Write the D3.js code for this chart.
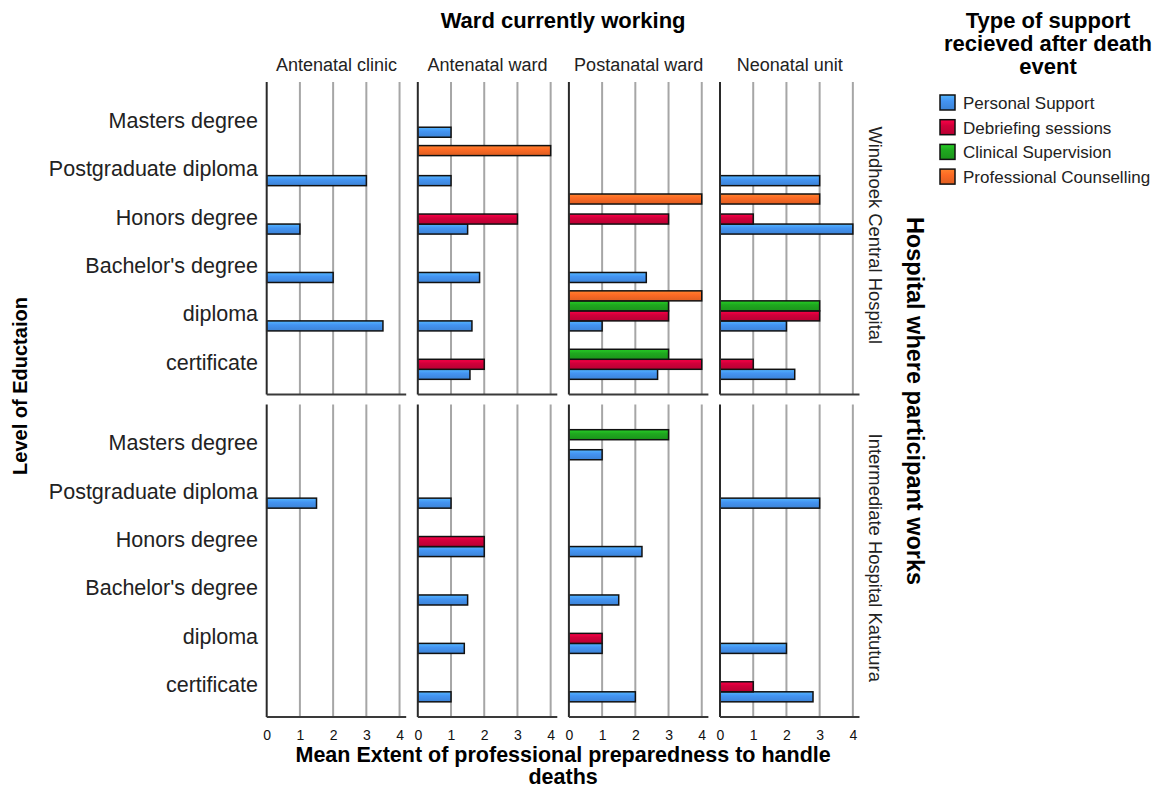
<!DOCTYPE html>
<html lang="en">
<head>
<meta charset="utf-8">
<title>Preparedness by ward and education</title>
<script src="https://d3js.org/d3.v7.min.js"></script>
<style>
  body { margin: 0; background: #fff; }
  svg { display: block; font-family: "Liberation Sans", Arial, sans-serif; }
  .bold { font-weight: bold; }
</style>
</head>
<body>
<script>
// categories
const hospitals = ["Windhoek Central Hospital", "Intermediate Hospital Katutura"];
const wards = ["Antenatal clinic", "Antenatal ward", "Postanatal ward", "Neonatal unit"];
const education = ["Masters degree", "Postgraduate diploma", "Honors degree", "Bachelor's degree", "diploma", "certificate"];
const supportTypes = ["Personal Support", "Debriefing sessions", "Clinical Supervision", "Professional Counselling"];
const supportColors = ["#4494f2", "#d1003a", "#1fa81f", "#fc6a25"];
const xTicks = [0, 1, 2, 3, 4];

// mean values: one row per ward, columns follow `education`, null = no bar
const windhoekPersonal = [
  [null, 3, 1, 2, 3.5, null],
  [1, 1, 1.5, 1.86, 1.63, 1.57],
  [null, null, null, 2.33, 1, 2.67],
  [null, 3, 4, null, 2, 2.25]
];
const windhoekDebriefing = [
  [null, null, null, null, null, null],
  [null, null, 3, null, null, 2],
  [null, null, 3, null, 3, 4],
  [null, null, 1, null, 3, 1]
];
const windhoekClinical = [
  [null, null, null, null, null, null],
  [null, null, null, null, null, null],
  [null, null, null, null, 3, 3],
  [null, null, null, null, 3, null]
];
const windhoekCounselling = [
  [null, null, null, null, null, null],
  [null, 4, null, null, null, null],
  [null, null, 4, null, 4, null],
  [null, null, 3, null, null, null]
];
const katuturaPersonal = [
  [null, 1.5, null, null, null, null],
  [null, 1, 2, 1.5, 1.4, 1],
  [1, null, 2.2, 1.5, 1, 2],
  [null, 3, null, null, 2, 2.8]
];
const katuturaDebriefing = [
  [null, null, null, null, null, null],
  [null, null, 2, null, null, null],
  [null, null, null, null, 1, null],
  [null, null, null, null, null, 1]
];
const katuturaClinical = [
  [null, null, null, null, null, null],
  [null, null, null, null, null, null],
  [3, null, null, null, null, null],
  [null, null, null, null, null, null]
];
const katuturaCounselling = [
  [null, null, null, null, null, null],
  [null, null, null, null, null, null],
  [null, null, null, null, null, null],
  [null, null, null, null, null, null]
];

const grids = [
  [windhoekPersonal, windhoekDebriefing, windhoekClinical, windhoekCounselling],
  [katuturaPersonal, katuturaDebriefing, katuturaClinical, katuturaCounselling]
];

// flatten into a table of bars
const bars = [];
hospitals.forEach((h, hi) => {
  supportTypes.forEach((s, si) => {
    grids[hi][si].forEach((row, wi) => {
      row.forEach((v, ei) => {
        if (v !== null) bars.push({hospital: h, ward: wards[wi], edu: education[ei], support: s, value: v});
      });
    });
  });
});

const width = 1157, height = 788;

const svg = d3.select("body").append("svg")
  .attr("width", width)
  .attr("height", height);

// gradients for the bar fills
const defs = svg.append("defs");
supportTypes.forEach((s, i) => {
  const base = d3.color(supportColors[i]);
  const g = defs.append("linearGradient")
    .attr("id", "grad" + i)
    .attr("x1", 0).attr("y1", 0).attr("x2", 0).attr("y2", 1);
  g.append("stop").attr("offset", "0%").attr("stop-color", base.brighter(0.6));
  g.append("stop").attr("offset", "40%").attr("stop-color", base);
  g.append("stop").attr("offset", "100%").attr("stop-color", base.darker(0.35));
});

const colScale = d3.scaleBand()
  .domain(wards)
  .range([266.7, 859.5])
  .paddingInner(0.0768)
  .paddingOuter(0);

const rowScale = d3.scaleBand()
  .domain(hospitals)
  .range([82, 717])
  .paddingInner(0.031)
  .paddingOuter(0);

const panelW = colScale.bandwidth();
const panelH = rowScale.bandwidth();

const xScale = d3.scaleLinear()
  .domain([0, 4.2])
  .range([0, panelW]);

const yScale = d3.scaleBand()
  .domain(education)
  .range([11, panelH - 11])
  .paddingInner(0.1724)
  .paddingOuter(0.0862);

// inner slots, top to bottom: counselling ... personal support
const slotScale = d3.scaleBand()
  .domain(supportTypes.slice().reverse())
  .range([0, yScale.bandwidth()]);

const color = d3.scaleOrdinal().domain(supportTypes).range(supportTypes.map((s, i) => "url(#grad" + i + ")"));

// panels
hospitals.forEach(h => {
  wards.forEach(w => {
    const p = svg.append("g")
      .attr("transform", "translate(" + colScale(w) + "," + rowScale(h) + ")");

    // grid lines
    p.selectAll("line.grid")
      .data(xTicks.filter(t => t > 0))
      .enter()
      .append("line")
      .attr("x1", d => xScale(d)).attr("x2", d => xScale(d))
      .attr("y1", 0).attr("y2", panelH)
      .attr("stroke", "#a6a6a6")
      .attr("stroke-width", 2);

    // bars
    p.selectAll("rect")
      .data(bars.filter(d => d.hospital === h && d.ward === w))
      .enter()
      .append("rect")
      .attr("x", 0)
      .attr("y", d => yScale(d.edu) + slotScale(d.support))
      .attr("width", d => xScale(d.value))
      .attr("height", slotScale.bandwidth())
      .attr("fill", d => color(d.support))
      .attr("stroke", "#111")
      .attr("stroke-width", 1.5);

    // axis lines
    p.append("line")
      .attr("x1", 0).attr("x2", 0).attr("y1", 0).attr("y2", panelH)
      .attr("stroke", "#2a2a2a").attr("stroke-width", 2);
    p.append("line")
      .attr("x1", 0).attr("x2", panelW).attr("y1", panelH).attr("y2", panelH)
      .attr("stroke", "#3a3a3a").attr("stroke-width", 2);
  });
});

// category labels on the left
hospitals.forEach(h => {
  svg.append("g")
    .selectAll("text")
    .data(education)
    .enter()
    .append("text")
    .attr("x", 258)
    .attr("y", d => rowScale(h) + yScale(d) + yScale.bandwidth() / 2 + 10.5)
    .attr("text-anchor", "end")
    .style("font-size", "21.5px")
    .attr("fill", "#222")
    .text(d => d);
});

// x tick labels under the bottom row
wards.forEach(w => {
  const ax = svg.append("g")
    .attr("transform", "translate(" + colScale(w) + "," + (rowScale(hospitals[1]) + panelH) + ")")
    .call(d3.axisBottom(xScale).tickValues(xTicks).tickFormat(d3.format("d")).tickSize(0).tickPadding(13));
  ax.select(".domain").remove();
  ax.selectAll("text")
    .style("font-family", "Liberation Sans, Arial, sans-serif")
    .style("font-size", "14px")
    .attr("fill", "#111");
});

// column headers
svg.append("g")
  .selectAll("text")
  .data(wards)
  .enter()
  .append("text")
  .attr("x", d => colScale(d) + panelW / 2)
  .attr("y", 71)
  .attr("text-anchor", "middle")
  .style("font-size", "18px")
  .attr("fill", "#222")
  .text(d => d);

// row strip labels on the right
svg.append("g")
  .selectAll("text")
  .data(hospitals)
  .enter()
  .append("text")
  .attr("transform", d => "translate(869," + (rowScale(d) + panelH / 2 - 3) + ") rotate(90)")
  .attr("text-anchor", "middle")
  .style("font-size", "18.4px")
  .attr("fill", "#222")
  .text(d => d);

const midX = (colScale.range()[0] + colScale.range()[1]) / 2;

svg.append("text")
  .attr("class", "bold")
  .attr("x", midX)
  .attr("y", 28)
  .attr("text-anchor", "middle")
  .style("font-size", "22px")
  .text("Ward currently working");

svg.append("text")
  .attr("class", "bold")
  .attr("text-anchor", "middle")
  .style("font-size", "21.5px")
  .selectAll("tspan")
  .data(["Mean Extent of professional preparedness to handle", "deaths"])
  .enter()
  .append("tspan")
  .attr("x", midX)
  .attr("y", (d, i) => 762 + i * 22)
  .text(d => d);

svg.append("text")
  .attr("class", "bold")
  .attr("transform", "translate(27,386) rotate(-90)")
  .attr("text-anchor", "middle")
  .style("font-size", "20px")
  .text("Level of Eductaion");

svg.append("text")
  .attr("class", "bold")
  .attr("transform", "translate(907,401) rotate(90)")
  .attr("text-anchor", "middle")
  .style("font-size", "23.5px")
  .text("Hospital where participant works");

// legend
const legend = svg.append("g");
legend.append("text")
  .attr("class", "bold")
  .attr("text-anchor", "middle")
  .style("font-size", "22px")
  .selectAll("tspan")
  .data(["Type of support", "recieved after death", "event"])
  .enter()
  .append("tspan")
  .attr("x", 1048)
  .attr("y", (d, i) => 28 + i * 23)
  .text(d => d);

const items = legend.selectAll("g.item")
  .data(supportTypes)
  .enter()
  .append("g")
  .attr("transform", (d, i) => "translate(940," + (95 + i * 24.7) + ")");

items.append("rect")
  .attr("width", 15)
  .attr("height", 15)
  .attr("fill", d => color(d))
  .attr("stroke", "#111")
  .attr("stroke-width", 1.5);

items.append("text")
  .attr("x", 23)
  .attr("y", 14)
  .style("font-size", "17px")
  .attr("fill", "#222")
  .text(d => d);
</script>
</body>
</html>
